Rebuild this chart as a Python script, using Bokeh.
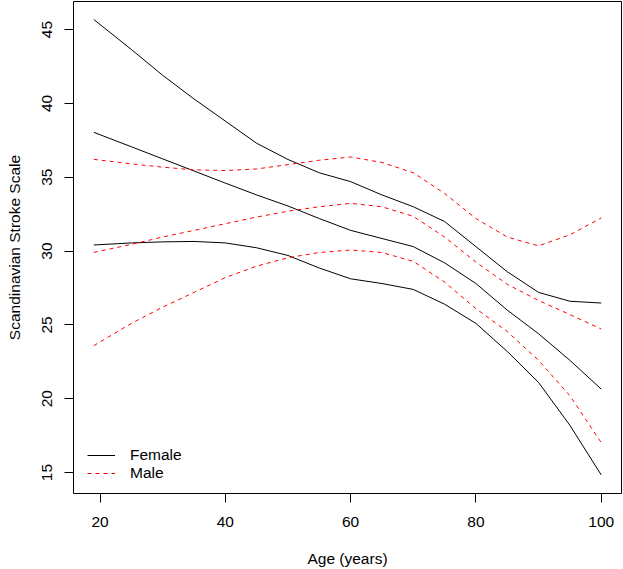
from bokeh.plotting import figure
from bokeh.models import Range1d, FixedTicker, Legend, LegendItem
from bokeh.embed import file_html
from bokeh.resources import INLINE

age = [19, 25, 30, 35, 40, 45, 50, 55, 60, 65, 70, 75, 80, 85, 90, 95, 100]

female_upper = [45.68, 43.65, 41.9, 40.3, 38.8, 37.3, 36.2, 35.3, 34.7, 33.8, 33.0, 32.0, 30.3, 28.6, 27.2, 26.6, 26.48]
female_mean = [38.04, 37.06, 36.24, 35.42, 34.6, 33.8, 33.05, 32.2, 31.4, 30.85, 30.3, 29.2, 27.8, 26.0, 24.4, 22.6, 20.65]
female_lower = [30.41, 30.55, 30.62, 30.65, 30.55, 30.22, 29.7, 28.85, 28.12, 27.8, 27.4, 26.4, 25.1, 23.2, 21.1, 18.2, 14.84]

male_upper = [36.21, 35.9, 35.68, 35.5, 35.45, 35.56, 35.85, 36.15, 36.37, 36.0, 35.3, 33.9, 32.2, 30.95, 30.35, 31.1, 32.24]
male_mean = [29.91, 30.45, 30.95, 31.4, 31.85, 32.3, 32.7, 33.0, 33.23, 33.0, 32.35, 30.95, 29.25, 27.75, 26.65, 25.7, 24.72]
male_lower = [23.59, 25.1, 26.2, 27.2, 28.2, 28.98, 29.55, 29.9, 30.07, 29.9, 29.3, 27.9, 26.1, 24.55, 22.6, 20.2, 17.03]

x_ticks = [20, 40, 60, 80, 100]
y_ticks = [15, 20, 25, 30, 35, 40, 45]

FONT = "Liberation Sans"
FS = "15.5px"

p = figure(width=623, height=569, output_backend="svg", toolbar_location=None,
           x_range=Range1d(15.76, 103.24), y_range=Range1d(13.58, 46.9),
           min_border_left=73, min_border_right=2, min_border_top=1, min_border_bottom=76)
p.grid.visible = False
p.outline_line_color = "black"
p.outline_line_width = 1
p.background_fill_color = "white"
p.border_fill_color = "white"

for ax in (p.xaxis[0], p.yaxis[0]):
    ax.axis_line_color = None
    ax.major_tick_line_color = "black"
    ax.major_tick_out = 9
    ax.major_tick_in = 0
    ax.minor_tick_line_color = None
    ax.major_label_text_font = FONT
    ax.major_label_text_font_size = FS
    ax.major_label_text_color = "black"
    ax.axis_label_text_font = FONT
    ax.axis_label_text_font_size = FS
    ax.axis_label_text_font_style = "normal"
    ax.axis_label_text_color = "black"

p.xaxis.ticker = FixedTicker(ticks=x_ticks)
p.yaxis.ticker = FixedTicker(ticks=y_ticks)
p.xaxis.axis_label = "Age (years)"
p.yaxis.axis_label = "Scandinavian Stroke Scale"
p.xaxis.major_label_standoff = 14
p.xaxis.axis_label_standoff = 20
p.yaxis.major_label_orientation = "vertical"
p.yaxis.major_label_standoff = 12
p.yaxis.axis_label_standoff = 17

rf = []
for ys in (female_upper, female_mean, female_lower):
    rf.append(p.line(age, ys, line_color="black", line_width=1))
rm = []
for ys in (male_upper, male_mean, male_lower):
    rm.append(p.line(age, ys, line_color="#FF0000", line_width=1, line_dash="4 4"))

legend = Legend(items=[LegendItem(label="Female", renderers=[rf[0]]),
                       LegendItem(label="Male", renderers=[rm[0]])],
                location=(14, 11), border_line_color=None, background_fill_alpha=0,
                padding=0, margin=0, spacing=0, glyph_width=28, glyph_height=18,
                label_height=18, label_standoff=15, label_text_font=FONT,
                label_text_font_size=FS, label_text_color="black")
p.add_layout(legend, "center")

open("out.html", "w").write(file_html(p, INLINE))
